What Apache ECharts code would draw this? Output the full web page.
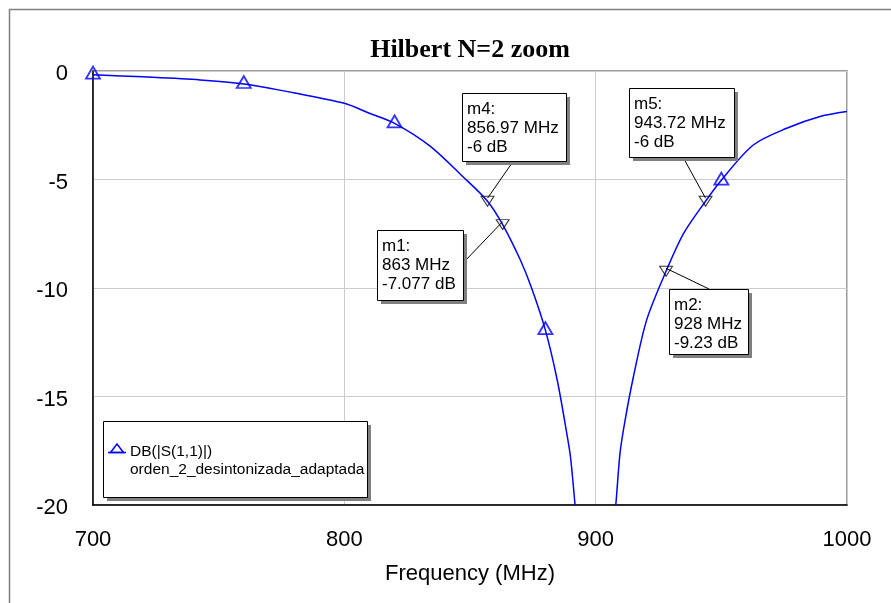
<!DOCTYPE html>
<html>
<head>
<meta charset="utf-8">
<script src="https://cdn.jsdelivr.net/npm/echarts@6/dist/echarts.min.js"></script>
<style>
  html, body { margin: 0; padding: 0; background: #fff; }
  #chart { width: 891px; height: 603px; }
</style>
</head>
<body>
<div id="chart"></div>
<script>
// curve (MHz, dB)
const freq = [700, 720, 742.6, 760, 781, 800, 810, 820, 834, 847, 856.97, 863, 870, 874.5, 880, 884.7, 888.5, 890, 891.8, 893, 900, 906.5, 908, 909.7, 911.7, 915, 920.3, 928, 935, 943.72, 949.5, 962.7, 976, 989.3, 1000];
const dB = [-0.17, -0.27, -0.41, -0.6, -1.03, -1.49, -1.95, -2.41, -3.45, -4.85, -6, -7.077, -8.7, -10.0, -11.94, -14.24, -16.7, -17.8, -20, -21.5, -28, -21.5, -20, -17.6, -16.1, -14.1, -11.47, -9.23, -7.48, -6, -5.1, -3.41, -2.64, -2.1, -1.87];

// series symbols along the trace
const symFreq = [700, 760, 820, 880, 950];
const symDB = [-0.17, -0.6, -2.41, -11.94, -5.05];

// markers
const mkName = ['m1', 'm2', 'm4', 'm5'];
const mkFreq = [863, 928, 856.97, 943.72];
const mkDB = [-7.077, -9.23, -6, -6];

const xTicks = [700, 800, 900, 1000];
const yTicks = [0, -5, -10, -15, -20];

const FONT = 'Arial, "Liberation Sans", sans-serif';
const BLUE = '#0000ff';

const chart = echarts.init(document.getElementById('chart'));

chart.setOption({
    animation: false,
    title: {
        text: 'Hilbert N=2 zoom',
        left: 470,
        top: 37,
        padding: 0,
        textAlign: 'center',
        textStyle: { fontFamily: '"Times New Roman", "Liberation Serif", serif', fontWeight: 'bold', fontSize: 26, color: '#000' }
    },
    grid: {
        left: 93, top: 71, right: 44, bottom: 98,
        show: true,
        borderColor: '#7f7f7f',
        borderWidth: 1.5
    },
    xAxis: {
        type: 'value',
        min: 700, max: 1000, interval: 100,
        name: 'Frequency (MHz)',
        nameLocation: 'middle',
        nameGap: 58,
        nameTextStyle: { fontFamily: FONT, fontSize: 22, color: '#000' },
        axisLine: { show: true, onZero: false, lineStyle: { color: '#000', width: 1.5 } },
        axisTick: { show: false },
        axisLabel: {
            fontFamily: FONT, fontSize: 22, color: '#000', margin: 24,
            formatter: v => xTicks.includes(v) ? String(v) : ''
        },
        splitLine: { lineStyle: { color: '#cccccc', width: 1 } }
    },
    yAxis: {
        type: 'value',
        min: -20, max: 0, interval: 5,
        axisLine: { show: true, onZero: false, lineStyle: { color: '#000', width: 1.5 } },
        axisTick: { show: false },
        axisLabel: {
            margin: 25,
            formatter: v => yTicks.includes(v) ? '{t|' + v + '}' : '',
            rich: {
                t: { fontFamily: FONT, fontSize: 22, color: '#000', padding: [6, 0, 0, 0] }
            }
        },
        splitLine: { lineStyle: { color: '#cccccc', width: 1 } }
    },
    series: [
        {
            name: 'DB(|S(1,1)|)',
            type: 'line',
            data: freq.map((f, i) => [f, dB[i]]),
            showSymbol: false,
            smooth: 0.3,
            clip: true,
            lineStyle: { color: BLUE, width: 1.5 },
            z: 3
        },
        {
            type: 'scatter',
            data: symFreq.map((f, i) => [f, symDB[i]]),
            symbol: 'triangle',
            symbolSize: [14, 12],
            symbolOffset: [0, -2],
            itemStyle: { color: 'transparent', borderColor: BLUE, borderWidth: 1.8 },
            clip: false,
            z: 4
        },
        {
            type: 'scatter',
            data: mkFreq.map((f, i) => [f, mkDB[i]]),
            symbol: 'path://M0,0L12,0L6,10Z',
            symbolSize: [13, 10],
            itemStyle: { color: 'transparent', borderColor: '#000', borderWidth: 1 },
            z: 5
        }
    ]
});

// marker boxes: pixel layout of each box and where its leader leaves it
const boxes = {
    m4: { x: 462, y: 93, w: 104, h: 68, from: [512, 163] },
    m5: { x: 629, y: 88, w: 105, h: 69, from: [684, 159] },
    m1: { x: 377, y: 230, w: 86, h: 70, from: [464, 262] },
    m2: { x: 669, y: 289, w: 79, h: 65, from: [709, 289] }
};

const graphics = [];
// outer frame
graphics.push({
    type: 'rect', shape: { x: 9.5, y: 9.5, width: 1000, height: 1000 },
    style: { fill: 'none', stroke: '#7f7f7f', lineWidth: 1.5 }, silent: true
});

mkName.forEach((n, i) => {
    const b = boxes[n];
    const p = chart.convertToPixel({ gridIndex: 0 }, [mkFreq[i], mkDB[i]]);
    graphics.push({
        type: 'line', shape: { x1: b.from[0], y1: b.from[1], x2: p[0], y2: p[1] - 3 },
        style: { stroke: '#000', lineWidth: 1 }, z: 10
    });
    graphics.push({
        type: 'rect', shape: { x: b.x + 4, y: b.y + 4, width: b.w, height: b.h },
        style: { fill: '#808080' }, z: 11
    });
    graphics.push({
        type: 'rect', shape: { x: b.x + 0.5, y: b.y + 0.5, width: b.w, height: b.h },
        style: { fill: '#fff', stroke: '#000', lineWidth: 1 }, z: 12
    });
    const lines = [n + ':', mkFreq[i] + ' MHz', mkDB[i] + ' dB'];
    lines.forEach((t, k) => {
        graphics.push({
            type: 'text', x: b.x + 5, y: b.y + 16 + k * 19.3, z: 13,
            style: { text: t, fontFamily: FONT, fontSize: 17, fill: '#000', verticalAlign: 'middle' }
        });
    });
});

// legend box
const lg = { x: 103, y: 421, w: 264, h: 76 };
graphics.push({ type: 'rect', shape: { x: lg.x + 4, y: lg.y + 4, width: lg.w, height: lg.h }, style: { fill: '#808080' }, z: 11 });
graphics.push({ type: 'rect', shape: { x: lg.x + 0.5, y: lg.y + 0.5, width: lg.w, height: lg.h }, style: { fill: '#fff', stroke: '#000', lineWidth: 1 }, z: 12 });
graphics.push({ type: 'line', shape: { x1: 108, y1: 452.5, x2: 126, y2: 452.5 }, style: { stroke: BLUE, lineWidth: 1.5 }, z: 13 });
graphics.push({ type: 'polygon', shape: { points: [[110.5, 452.5], [123.5, 452.5], [117, 444]] }, style: { fill: 'none', stroke: BLUE, lineWidth: 1.5 }, z: 13 });
graphics.push({ type: 'text', x: 130, y: 451.5, z: 13, style: { text: 'DB(|S(1,1)|)', fontFamily: FONT, fontSize: 15.5, fill: '#000', verticalAlign: 'middle' } });
graphics.push({ type: 'text', x: 130, y: 469.5, z: 13, style: { text: 'orden_2_desintonizada_adaptada', fontFamily: FONT, fontSize: 15.5, fill: '#000', verticalAlign: 'middle' } });

chart.setOption({ graphic: graphics });
</script>
</body>
</html>
